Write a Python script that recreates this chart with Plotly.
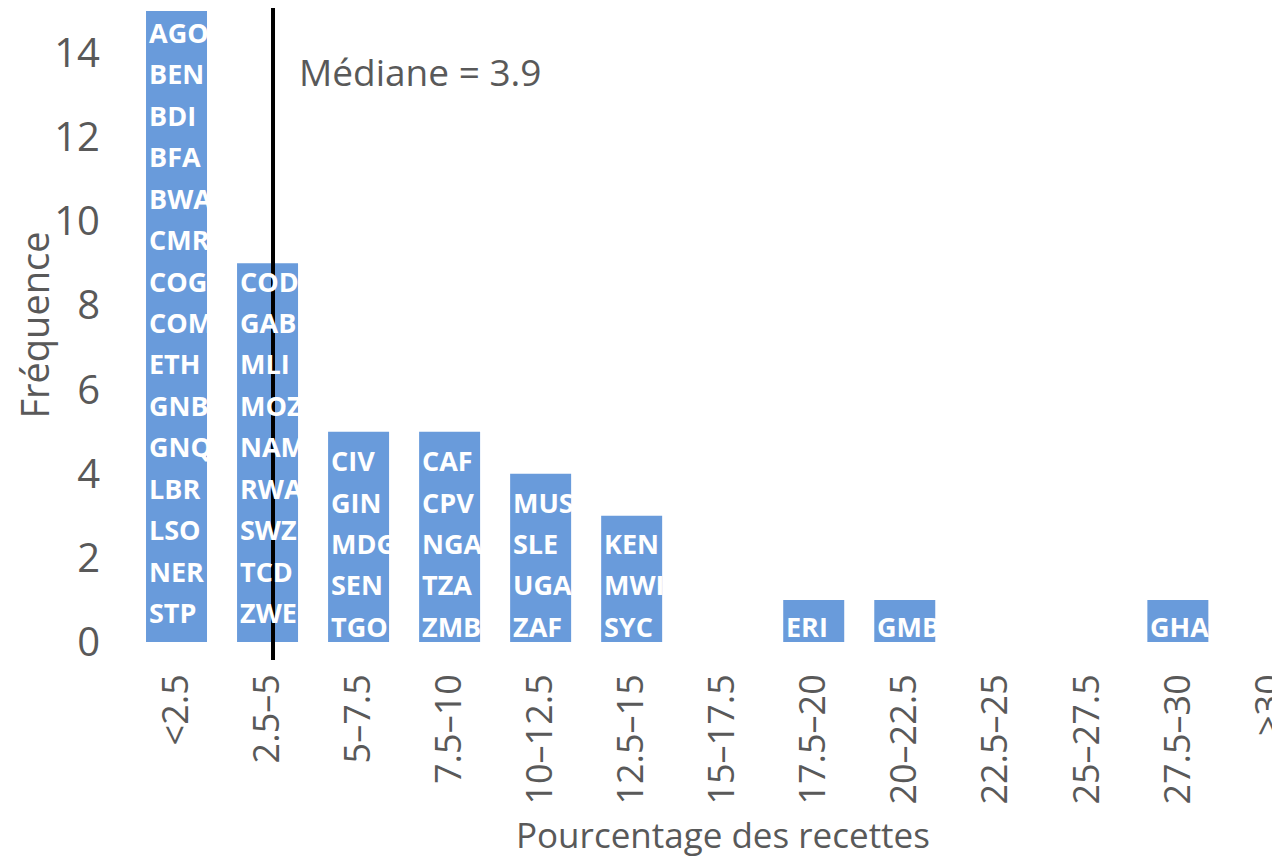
import plotly.graph_objects as go

categories = ["<2.5", "2.5–5", "5–7.5", "7.5–10", "10–12.5", "12.5–15", "15–17.5",
              "17.5–20", "20–22.5", "22.5–25", "25–27.5", "27.5–30", ">30"]
frequencies = [15, 9, 5, 5, 4, 3, 0, 1, 1, 0, 0, 1, 0]
countries = [
    ["AGO", "BEN", "BDI", "BFA", "BWA", "CMR", "COG", "COM", "ETH", "GNB", "GNQ", "LBR", "LSO", "NER", "STP"],
    ["COD", "GAB", "MLI", "MOZ", "NAM", "RWA", "SWZ", "TCD", "ZWE"],
    ["CIV", "GIN", "MDG", "SEN", "TGO"],
    ["CAF", "CPV", "NGA", "TZA", "ZMB"],
    ["MUS", "SLE", "UGA", "ZAF"],
    ["KEN", "MWI", "SYC"],
    [],
    ["ERI"],
    ["GMB"],
    [],
    [],
    ["GHA"],
    [],
]
median_value = 3.9
bin_width = 2.5

BAR_COLOR = "#699BDB"
TEXT_COLOR = "#595959"
FONT = "Open Sans"
BAR_W = 0.67
LABEL_STEP = 0.985

x_idx = list(range(len(categories)))

fig = go.Figure()
fig.add_trace(go.Bar(
    x=x_idx, y=frequencies, width=BAR_W,
    marker=dict(color=BAR_COLOR, line=dict(width=0)),
    hoverinfo="skip", showlegend=False,
))

annotations = []
for i, names in enumerate(countries):
    n = len(names)
    offset = 0.7 if n > 5 else 0.37
    for k, name in enumerate(names):
        pos_from_bottom = n - 1 - k
        annotations.append(dict(
            x=i - BAR_W / 2, y=pos_from_bottom * LABEL_STEP + offset, xref="x", yref="y",
            text=f"<b>{name}</b>", showarrow=False, xanchor="left", yanchor="middle",
            xshift=1, font=dict(family=FONT, size=27, color="white"),
        ))

median_x = median_value / bin_width - 0.5
fig.add_shape(type="line", xref="x", yref="paper", x0=median_x, x1=median_x,
              y0=-0.0284, y1=1, line=dict(color="black", width=4))

annotations.append(dict(
    x=median_x, y=13.55, xref="x", yref="y", text="Médiane = 3.9", showarrow=False,
    xanchor="left", yanchor="middle", xshift=24,
    font=dict(family=FONT, size=37, color=TEXT_COLOR),
))
annotations.append(dict(
    x=(len(categories) - 1) / 2, y=-0.304, xref="x", yref="paper",
    text="Pourcentage des recettes", showarrow=False, xanchor="center", yanchor="middle",
    font=dict(family=FONT, size=35, color=TEXT_COLOR),
))

fig.update_layout(
    width=1280, height=862,
    margin=dict(l=123, r=0, t=0, b=228, autoexpand=False),
    paper_bgcolor="white", plot_bgcolor="white",
    annotations=annotations,
    xaxis=dict(
        range=[-0.5, 12.21], tickmode="array", tickvals=x_idx, ticktext=categories,
        tickangle=-90, showgrid=False, zeroline=False, showline=False, ticks="",
        ticklabelstandoff=24, automargin=False, ticklabeloverflow="allow",
        tickfont=dict(family=FONT, size=36, color=TEXT_COLOR),
    ),
    yaxis=dict(
        range=[0, 15.07], tickmode="array", tickvals=list(range(0, 15, 2)),
        showgrid=False, zeroline=False, showline=False, ticks="",
        ticklabelstandoff=30, automargin=False, ticklabeloverflow="allow",
        tickfont=dict(family=FONT, size=40, color=TEXT_COLOR),
        title=dict(text="Fréquence", font=dict(family=FONT, size=38, color=TEXT_COLOR), standoff=4),
    ),
)

fig.write_html("out.html")
